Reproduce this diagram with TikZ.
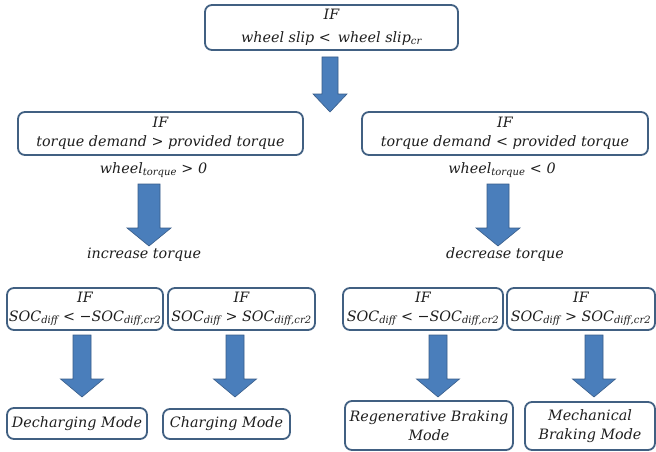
\documentclass[tikz,border=0pt]{standalone}
\usepackage{amsmath}
\usepackage{fontspec}
\setmainfont{DejaVu Serif}
\usetikzlibrary{positioning}

\definecolor{boxline}{RGB}{65,96,130}
\definecolor{arrowfill}{RGB}{74,126,187}
\definecolor{arrowline}{RGB}{56,92,136}
\definecolor{inktext}{RGB}{30,30,30}

\newcommand{\lo}[1]{$_{\text{#1}}$}
% x, top, tip, shaft half width, head half width
\newcommand{\bigarrow}[5]{%
  \draw[blockarrow] (#1-#4,#2) -- (#1+#4,#2) -- (#1+#4,#3-18) -- (#1+#5,#3-18)
    -- (#1,#3) -- (#1-#5,#3-18) -- (#1-#4,#3-18) -- cycle;}

\begin{document}
\begin{tikzpicture}[x=1pt,y=-1pt]
\tikzset{
  condbox/.style={draw=boxline,line width=1.8pt,rounded corners=7pt,align=center,
    inner sep=1pt,text=inktext,font=\itshape\fontsize{14.3}{19}\selectfont},
  plain/.style={inner sep=1pt,text=inktext,font=\itshape\fontsize{14.3}{15}\selectfont},
  blockarrow/.style={fill=arrowfill,draw=arrowline,line width=0.6pt,line join=miter}
}
\useasboundingbox[fill=white] (0,0) rectangle (656,452);
% first test
\node[condbox,minimum width=253pt,minimum height=45pt,font=\itshape\fontsize{14.3}{23}\selectfont]
  (n_top) at (331.5,27.5) {IF\\wheel slip <\, wheel slip\lo{cr}};
% torque tests
\node[condbox,minimum width=285pt,minimum height=43pt] (n_more) at (160.5,133.5)
  {IF\\torque demand > provided torque};
\node[condbox,minimum width=286pt,minimum height=43pt] (n_less) at (505,133.5)
  {IF\\torque demand < provided torque};
\node[plain] (n_pos) at (153.5,170) {wheel\lo{torque} > 0};
\node[plain] (n_neg) at (502,170) {wheel\lo{torque} < 0};
\node[plain] (n_inc) at (144,255) {increase torque};
\node[plain] (n_dec) at (505,255) {decrease torque};
% SOC tests
\node[condbox,minimum width=156pt,minimum height=42pt] (n_soc1) at (85,309)
  {IF\\SOC\lo{diff} < −SOC\lo{diff,cr2}};
\node[condbox,minimum width=147pt,minimum height=42pt] (n_soc2) at (241.5,309)
  {IF\\SOC\lo{diff} > SOC\lo{diff,cr2}};
\node[condbox,minimum width=160pt,minimum height=42pt] (n_soc3) at (423,309)
  {IF\\SOC\lo{diff} < −SOC\lo{diff,cr2}};
\node[condbox,minimum width=148pt,minimum height=42pt] (n_soc4) at (581,309)
  {IF\\SOC\lo{diff} > SOC\lo{diff,cr2}};
% modes
\node[condbox,minimum width=140pt,minimum height=31pt] (n_dech) at (77,423.5) {Decharging Mode};
\node[condbox,minimum width=127pt,minimum height=30pt] (n_ch) at (226.5,424) {Charging Mode};
\node[condbox,minimum width=168pt,minimum height=49pt] (n_regen) at (429,425.5)
  {Regenerative Braking\\Mode};
\node[condbox,minimum width=130pt,minimum height=48pt] (n_mech) at (590,426)
  {Mechanical\\Braking Mode};
% arrows
\bigarrow{330}{57}{112}{8}{17}
\bigarrow{149}{184}{246}{11}{22}
\bigarrow{498}{184}{246}{11}{22}
\bigarrow{82}{335}{397}{9}{21.5}
\bigarrow{235}{335}{397}{9}{21.5}
\bigarrow{438}{335}{397}{9}{21.5}
\bigarrow{594}{335}{397}{9}{21.5}
\end{tikzpicture}
\end{document}
